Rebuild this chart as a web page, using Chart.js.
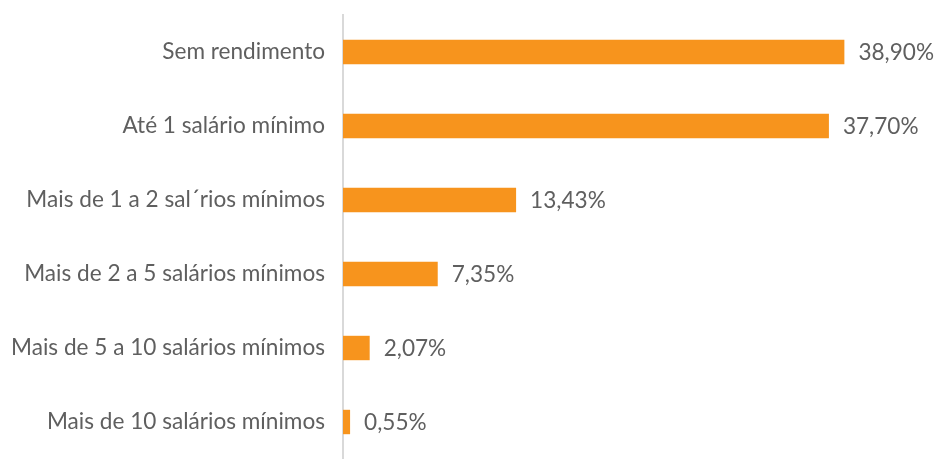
<!DOCTYPE html>
<html lang="pt">
<head>
  <meta charset="UTF-8">
  <title>Rendimento</title>
  <script src="https://cdn.jsdelivr.net/npm/chart.js"></script>
  <style>
    html, body { margin: 0; padding: 0; background: #fff; }
    #wrap { width: 936px; height: 459px; }
  </style>
</head>
<body>
  <div id="wrap"><canvas id="rendaChart"></canvas></div>

  <script>
    const categories = [
      'Sem rendimento',
      'Até 1 salário mínimo',
      'Mais de 1 a 2 sal´rios mínimos',
      'Mais de 2 a 5 salários mínimos',
      'Mais de 5 a 10 salários mínimos',
      'Mais de 10 salários mínimos'
    ];
    const values = [38.90, 37.70, 13.43, 7.35, 2.07, 0.55];
    const valueLabels = ['38,90%', '37,70%', '13,43%', '7,35%', '2,07%', '0,55%'];

    const FONT = { family: 'Lato, "Open Sans", sans-serif', size: 22.6, lineHeight: 1 };
    const TEXT_COLOR = '#5f5f5f';

    // value labels to the right of each bar
    const barLabels = {
      id: 'barLabels',
      afterDatasetsDraw(chart) {
        const ctx = chart.ctx;
        const meta = chart.getDatasetMeta(0);
        ctx.save();
        ctx.font = `${FONT.size}px ${FONT.family}`;
        ctx.fillStyle = TEXT_COLOR;
        ctx.textAlign = 'left';
        ctx.textBaseline = 'middle';
        meta.data.forEach((bar, i) => {
          ctx.fillText(valueLabels[i], bar.x + 14, bar.y + 1);
        });
        ctx.restore();
      }
    };

    new Chart(document.getElementById('rendaChart'), {
      type: 'bar',
      data: {
        labels: categories,
        datasets: [{
          data: values,
          backgroundColor: '#F7941D',
          barPercentage: 0.33,
          categoryPercentage: 1.0
        }]
      },
      options: {
        indexAxis: 'y',
        responsive: true,
        maintainAspectRatio: false,
        animation: false,
        layout: { padding: { top: 15, right: 13, bottom: -6, left: 0 } },
        plugins: { legend: { display: false }, tooltip: { enabled: false } },
        scales: {
          x: { display: false, min: 0, max: 45 },
          y: {
            grid: { display: false },
            border: { display: true, color: '#d9d9d9', width: 2 },
            ticks: { color: TEXT_COLOR, font: FONT, padding: 10 },
            afterFit(scale) {
              scale.width = 343;
              scale.paddingTop = 0;
              scale.paddingBottom = 0;
            }
          }
        }
      },
      plugins: [barLabels]
    });
  </script>
</body>
</html>
